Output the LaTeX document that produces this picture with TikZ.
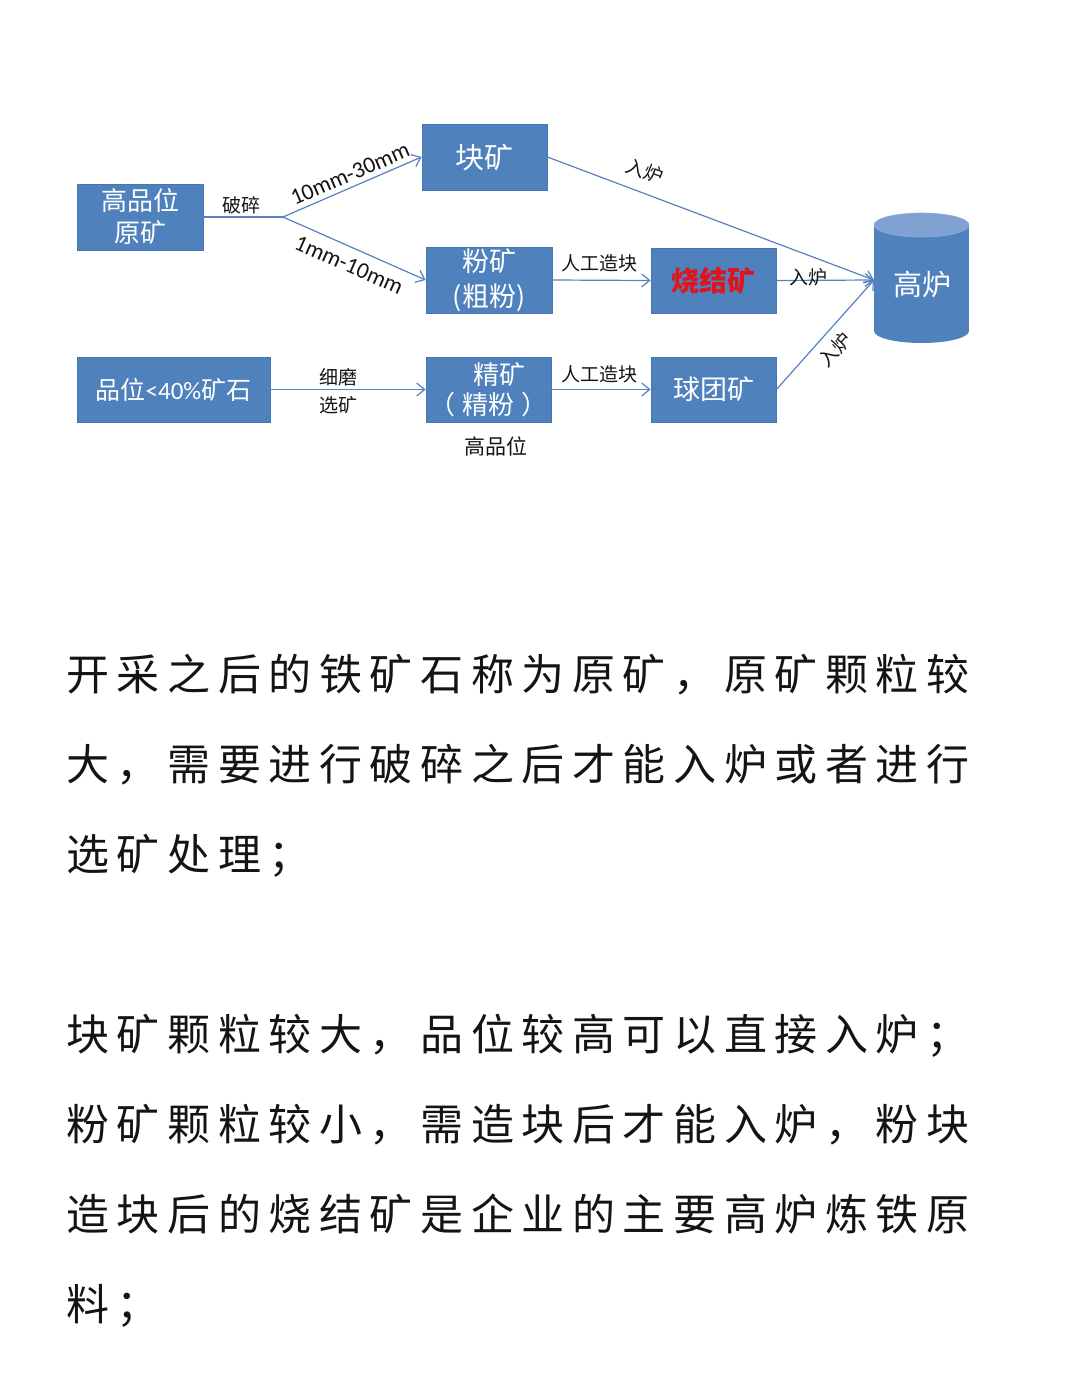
\documentclass[tikz,border=0pt]{standalone}
\usepackage{fontspec}
\setmainfont{Liberation Sans}
\newfontfamily\cjk{Noto Sans CJK SC}
\newfontfamily\calfont{Carlito}
\usetikzlibrary{arrows.meta}
\definecolor{boxblue}{RGB}{79,129,189}
\definecolor{boxedge}{RGB}{70,118,178}
\definecolor{lineblue}{RGB}{86,130,190}
\definecolor{topblue}{RGB}{128,162,210}
\definecolor{sinterred}{RGB}{225,20,30}
\definecolor{ink}{RGB}{20,20,20}
\begin{document}
\begin{tikzpicture}[x=1pt,y=-1pt,
  box/.style={draw=boxedge, fill=boxblue, line width=0.8pt, inner sep=0pt, text=white,
    align=center, font=\cjk\fontsize{26}{32}\selectfont},
  conn/.style={draw=lineblue, line width=1.2pt, -{Straight Barb[length=8pt,width=13pt]}},
  plain/.style={draw=lineblue, line width=1.2pt},
  lbl/.style={font=\cjk\fontsize{19}{28}\selectfont, text=ink, inner sep=0pt, align=center},
  mm/.style={font=\calfont\fontsize{23}{23}\selectfont, text=ink, inner sep=0pt},
  para/.style={font=\cjk\fontsize{43}{50}\selectfont, text=ink, anchor=base west, inner sep=0pt}]

\useasboundingbox[fill=white] (0,0) rectangle (1067,1376);

% ---------- boxes ----------
\node[box, minimum width=126pt, minimum height=66pt] (raw) at (140,217) {高品位\\原矿};
\node[box, minimum width=125pt, minimum height=66pt, font=\cjk\fontsize{29}{32}\selectfont] (lump) at (484.5,157) {块矿};
\node[box, minimum width=126pt, minimum height=66pt, font=\cjk\fontsize{27}{35}\selectfont] (fines) at (489,280) {粉矿\\(粗粉)};
\node[box, minimum width=125pt, minimum height=65pt, text=sinterred, font=\cjk\bfseries\fontsize{28}{32}\selectfont] (sinter) at (713.5,280.5) {烧结矿};
\node[box, minimum width=193pt, minimum height=65pt, font=\cjk\fontsize{25}{32}\selectfont] (lowgrade) at (173.5,389.5) {品位{\calfont\fontsize{25}{32}\selectfont <40\%}矿石};
\node[box, minimum width=125pt, minimum height=65pt, font=\cjk\fontsize{26}{30}\selectfont] (conc) at (488.5,389.5) {\hspace*{22pt}精矿\\（\kern7pt 精粉\kern7pt ）};
\node[box, minimum width=125pt, minimum height=65pt, font=\cjk\fontsize{27}{32}\selectfont] (pellet) at (713.5,389.5) {球团矿};

% ---------- blast furnace (cylinder) ----------
\fill[boxblue] (874,225) rectangle (969,331);
\fill[boxblue] (921.5,331) ellipse [x radius=47.5, y radius=12];
\fill[topblue] (921.5,225) ellipse [x radius=47.5, y radius=12];
\draw[boxedge!60!white, line width=0.6pt] (921.5,225) ellipse [x radius=47.5, y radius=12];
\node[text=white, font=\cjk\fontsize{29}{32}\selectfont, inner sep=0pt] (furnace) at (922,284) {高炉};
\coordinate (fin) at (874,280);

% ---------- connectors ----------
\coordinate (split) at (283,217);
\draw[plain] (raw.east) -- (split);
\draw[conn] (split) -- (lump.west);
\draw[conn] (split) -- (fines.west);
\draw[conn] (lump.east) -- (fin);
\draw[conn] (fines.east) -- (sinter.west);
\draw[conn] (sinter.east) -- (fin);
\draw[conn] (pellet.east) -- (fin);
\draw[conn] (lowgrade.east) -- (conc.west);
\draw[conn] (conc.east) -- (pellet.west);

% ---------- labels ----------
\node[lbl] (l1) at (241,205) {破碎};
\node[mm, rotate=23.3] (l2) at (350,174) {10mm-30mm};
\node[mm, rotate=-23.8] (l3) at (349,265) {1mm-10mm};
\node[lbl, rotate=-20.6] (l4) at (645,171) {入炉};
\node[lbl] (l5) at (599,263) {人工造块};
\node[lbl] (l6) at (808,277) {入炉};
\node[lbl, rotate=48] (l7) at (835,350) {入炉};
\node[lbl] (l8) at (338,391) {细磨\\选矿};
\node[lbl] (l9) at (599,374) {人工造块};
\node[lbl, font=\cjk\fontsize{21}{24}\selectfont] (hg) at (496,446) {高品位};

% ---------- paragraph text ----------
\foreach \c [count=\i from 0] in {开,采,之,后,的,铁,矿,石,称,为,原,矿,，,原,矿,颗,粒,较}
  \node[para] (a\i) at (66+50.6*\i,690) {\c};
\foreach \c [count=\i from 0] in {大,，,需,要,进,行,破,碎,之,后,才,能,入,炉,或,者,进,行}
  \node[para] (b\i) at (66+50.6*\i,780) {\c};
\foreach \c [count=\i from 0] in {选,矿,处,理,；}
  \node[para] (c\i) at (66+50.6*\i,870) {\c};
\foreach \c [count=\i from 0] in {块,矿,颗,粒,较,大,，,品,位,较,高,可,以,直,接,入,炉,；}
  \node[para] (d\i) at (66+50.6*\i,1050) {\c};
\foreach \c [count=\i from 0] in {粉,矿,颗,粒,较,小,，,需,造,块,后,才,能,入,炉,，,粉,块}
  \node[para] (e\i) at (66+50.6*\i,1140) {\c};
\foreach \c [count=\i from 0] in {造,块,后,的,烧,结,矿,是,企,业,的,主,要,高,炉,炼,铁,原}
  \node[para] (f\i) at (66+50.6*\i,1230) {\c};
\foreach \c [count=\i from 0] in {料,；}
  \node[para] (g\i) at (66+50.6*\i,1320) {\c};
\end{tikzpicture}
\end{document}
